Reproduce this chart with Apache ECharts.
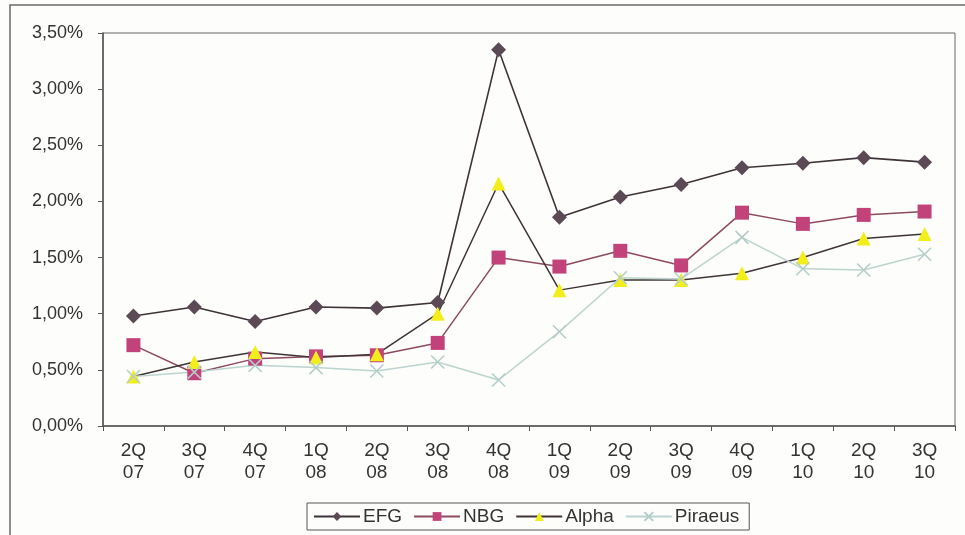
<!DOCTYPE html>
<html>
<head>
<meta charset="utf-8">
<script src="https://cdn.jsdelivr.net/npm/echarts@6/dist/echarts.min.js"></script>
<style>
  html, body { margin: 0; padding: 0; background: #fdfdfb; }
  #chart { width: 965px; height: 535px; }
</style>
</head>
<body>
<div id="chart"></div>
<script>
// Quarterly ratios (%) for four Greek banks, 2Q07 – 3Q10
const quarters = ['2Q\n07', '3Q\n07', '4Q\n07', '1Q\n08', '2Q\n08', '3Q\n08', '4Q\n08',
                  '1Q\n09', '2Q\n09', '3Q\n09', '4Q\n09', '1Q\n10', '2Q\n10', '3Q\n10'];
const efg     = [0.98, 1.06, 0.93, 1.06, 1.05, 1.10, 3.35, 1.86, 2.04, 2.15, 2.30, 2.34, 2.39, 2.35];
const nbg     = [0.72, 0.47, 0.60, 0.62, 0.63, 0.74, 1.50, 1.42, 1.56, 1.43, 1.90, 1.80, 1.88, 1.91];
const alpha   = [0.44, 0.57, 0.66, 0.61, 0.64, 1.00, 2.16, 1.21, 1.30, 1.30, 1.36, 1.50, 1.67, 1.71];
const piraeus = [0.44, 0.48, 0.54, 0.52, 0.49, 0.57, 0.41, 0.84, 1.32, 1.31, 1.68, 1.40, 1.39, 1.53];

const font = 'Liberation Sans, Arial, sans-serif';
const chart = echarts.init(document.getElementById('chart'));

chart.setOption({
  animation: false,
  backgroundColor: '#fdfdfb',
  graphic: [{
    type: 'rect',
    shape: { x: 10, y: 5, width: 1000, height: 600 },
    style: { fill: 'none', stroke: '#6a6a6a', lineWidth: 1.5 },
    silent: true
  }],
  grid: {
    left: 103, right: 10, top: 33, bottom: 109,
    show: true, borderColor: '#666', borderWidth: 1
  },
  legend: {
    left: 307, top: 503,
    itemWidth: 46, itemHeight: 11, itemGap: 11,
    padding: [4, 10, 4, 6],
    borderColor: '#555', borderWidth: 1,
    textStyle: { fontFamily: font, fontSize: 19, color: '#333', padding: [0, 0, 0, -2] },
    data: ['EFG', 'NBG', 'Alpha', 'Piraeus']
  },
  xAxis: {
    type: 'category',
    data: quarters,
    boundaryGap: true,
    axisLine: { lineStyle: { color: '#555', width: 1.5 } },
    axisTick: { show: true, length: 5, lineStyle: { color: '#555' } },
    axisLabel: {
      fontFamily: font, fontSize: 19, color: '#333', margin: 14,
      lineHeight: 22, interval: 0
    },
    splitLine: { show: false }
  },
  yAxis: {
    type: 'value',
    min: 0, max: 3.5, interval: 0.5,
    axisLine: { show: true, lineStyle: { color: '#555', width: 1.5 } },
    axisTick: { show: true, length: 5, lineStyle: { color: '#555' } },
    axisLabel: {
      fontFamily: font, fontSize: 18, color: '#333', margin: 20,
      formatter: v => v.toFixed(2).replace('.', ',') + '%'
    },
    splitLine: { show: false }
  },
  series: [
    {
      name: 'EFG', type: 'line', data: efg,
      symbol: 'diamond', symbolSize: 15,
      itemStyle: { color: '#5b4a55' },
      lineStyle: { color: '#3d3338', width: 1.6 }
    },
    {
      name: 'NBG', type: 'line', data: nbg,
      symbol: 'rect', symbolSize: 14,
      itemStyle: { color: '#c2437a' },
      lineStyle: { color: '#8e4a62', width: 1.5 }
    },
    {
      name: 'Alpha', type: 'line', data: alpha,
      symbol: 'triangle', symbolSize: 14,
      itemStyle: { color: '#f2ee1c' },
      lineStyle: { color: '#3f3535', width: 1.5 }
    },
    {
      name: 'Piraeus', type: 'line', data: piraeus,
      symbol: 'path://M0 0L10 10M10 0L0 10', symbolSize: 13,
      itemStyle: { color: 'none', borderColor: '#b3cdc8', borderWidth: 1.5 },
      lineStyle: { color: '#bcd4cf', width: 1.5 }
    }
  ]
});
</script>
</body>
</html>
